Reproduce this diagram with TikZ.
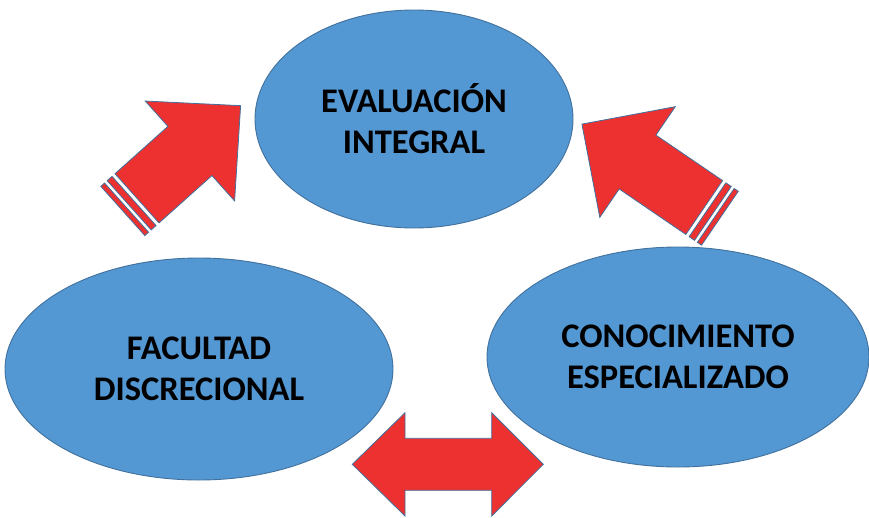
\documentclass[tikz,border=0pt]{standalone}
\usepackage{fontspec}
\setmainfont{Carlito}
\usetikzlibrary{shapes.geometric}
\definecolor{ellfill}{RGB}{83,151,211}
\definecolor{ellline}{RGB}{65,113,156}
\definecolor{arrred}{RGB}{237,48,48}
\tikzset{
  bubble/.style={ellipse, draw=ellline, fill=ellfill, line width=0.9pt, inner sep=0pt,
    font=\fontsize{34.5}{41}\selectfont\bfseries, align=center, text=black},
  blockarrow/.style={draw=ellline, fill=arrred, line width=0.8pt, line join=miter}
}
\begin{document}
\begin{tikzpicture}[x=1pt, y=-1pt]
\useasboundingbox (0,0) rectangle (869,517);
% ellipses
\node[bubble, minimum width=318pt, minimum height=218pt] (eval) at (414,119) {EVALUACIÓN\\INTEGRAL};
\node[bubble, minimum width=388pt, minimum height=222pt] (fac) at (199,369) {FACULTAD\\DISCRECIONAL};
\node[bubble, minimum width=382pt, minimum height=220pt] (con) at (678,357) {CONOCIMIENTO\\ESPECIALIZADO};
% striped arrow, left, pointing up-right
\begin{scope}[shift={(137,198.3)}, rotate=41.8]
  \draw[blockarrow] (0,-33) -- (71,-33) -- (71,-67) -- (139,0) -- (71,67) -- (71,33) -- (0,33) -- cycle;
  \draw[blockarrow] (-4,-33) rectangle (-10.5,33);
  \draw[blockarrow] (-14,-33) rectangle (-19,33);
\end{scope}
% striped arrow, right, pointing up-left
\begin{scope}[shift={(704.2,207.5)}, rotate=145.7]
  \draw[blockarrow] (0,-32.6) -- (80.7,-32.6) -- (80.7,-67) -- (148,0) -- (80.7,67) -- (80.7,32.6) -- (0,32.6) -- cycle;
  \draw[blockarrow] (-4,-32.6) rectangle (-10.5,32.6);
  \draw[blockarrow] (-14,-32.6) rectangle (-19,32.6);
\end{scope}
% double arrow at the bottom
\draw[blockarrow] (352.3,464.3) -- (405,412.7) -- (405,438.3) -- (491.7,438.3) -- (491.7,412.7)
  -- (543.3,464.3) -- (491.7,516) -- (491.7,490.3) -- (405,490.3) -- (405,516) -- cycle;
\end{tikzpicture}
\end{document}
